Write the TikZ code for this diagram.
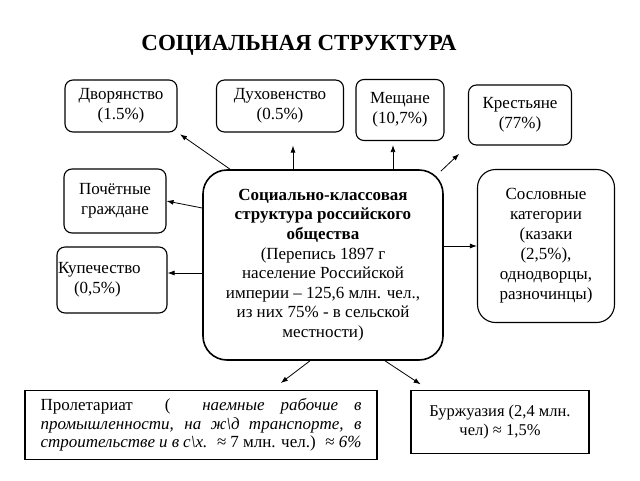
\documentclass[tikz,border=0pt]{standalone}
\usepackage{fontspec}
\setmainfont{Liberation Serif}
\usetikzlibrary{arrows.meta}

\begin{document}
\begin{tikzpicture}[x=1pt,y=-1pt]

      \useasboundingbox (0,0) rectangle (640,480);

      \node[font=\bfseries\fontsize{23}{27}\selectfont] (0) at (299,45) {СОЦИАЛЬНАЯ СТРУКТУРА};

      \begin{scope}[every node/.style={draw,rounded corners=8pt,line width=1.1pt,align=center,inner sep=0pt,font=\fontsize{17}{20}\selectfont}]
        \node[minimum width=112pt,minimum height=52pt]  (1) at (121,106) {Дворянство\\(1.5\%)};
        \node[minimum width=127pt,minimum height=52pt]  (2) at (280,106) {Духовенство\\(0.5\%)};
        \node[minimum width=88pt,minimum height=61pt]   (3) at (400,110) {Мещане\\(10,7\%)};
        \node[minimum width=103pt,minimum height=60pt]  (4) at (520,115) {Крестьяне\\(77\%)};
        \node[minimum width=102pt,minimum height=64pt]  (5) at (115,201) {Почётные\\граждане};
        \node[text width=108pt,minimum height=66pt,align=left,inner xsep=1pt] (6) at (112,280) {Купечество\\\hspace*{16pt}(0,5\%)};
        \node[minimum width=240pt,minimum height=190pt,rounded corners=24pt,line width=1.6pt,font=\fontsize{17}{19.6}\selectfont] (7) at (323,265)
          {\textbf{Социально-классовая}\\\textbf{структура российского}\\\textbf{общества}\\(Перепись 1897 г\\население Российской\\империи – 125,6 млн. чел.,\\из них 75\% - в сельской\\местности)};
        \node[minimum width=137pt,minimum height=153pt,rounded corners=18pt] (8) at (546,246)
          {Сословные\\категории\\(казаки\\(2,5\%),\\однодворцы,\\разночинцы)};
      \end{scope}

      \begin{scope}[every node/.style={draw,line width=1.6pt,align=center,inner sep=0pt,font=\fontsize{17}{18.5}\selectfont}]
        \node[minimum width=352pt,minimum height=69pt] (9) at (201,425)
          {\makebox[321pt][s]{Пролетариат \ ( \ \textit{наемные рабочие в}}\\
           \makebox[321pt][s]{\textit{промышленности, на ж\textbackslash{}д транспорте, в}}\\
           \makebox[321pt][s]{\textit{строительстве и в с\textbackslash{}х.} \ ≈ 7 млн. чел.) \ ≈ \textit{6\%}}};
        \node[minimum width=178pt,minimum height=63pt,line width=1.3pt,font=\fontsize{16.5}{18.5}\selectfont] (10) at (500,422) {Буржуазия (2,4 млн.\\чел) ≈ 1,5\%};
      \end{scope}

      \begin{scope}[every edge/.style={draw,line width=0.8pt,-{Latex[length=7pt,width=5pt]}}]
        \path ([xshift=-93pt]7.north) edge[shorten >=3pt] (1.south east);
        \path ([xshift=13pt]2.south |- 7.north) edge[shorten >=13pt] ([xshift=13pt]2.south);
        \path ([xshift=-7pt]3.south |- 7.north) edge[shorten >=4pt] ([xshift=-7pt]3.south);
        \path ([xshift=-3pt,yshift=-2pt]7.north east) edge[shorten >=12pt] (4.south west);
        \path ([yshift=57pt]7.west) edge (5.east);
        \path ([yshift=7pt]6.east -| 7.west) edge ([yshift=7pt]6.east);
        \path (8.west -| 7.east) edge (8.west);
        \path ([xshift=-13pt]7.south) edge[shorten >=11pt] ([xshift=71pt]9.north);
        \path ([xshift=62pt]7.south) edge[shorten >=10pt] ([xshift=-71pt]10.north);
      \end{scope}

    \end{tikzpicture}
\end{document}
